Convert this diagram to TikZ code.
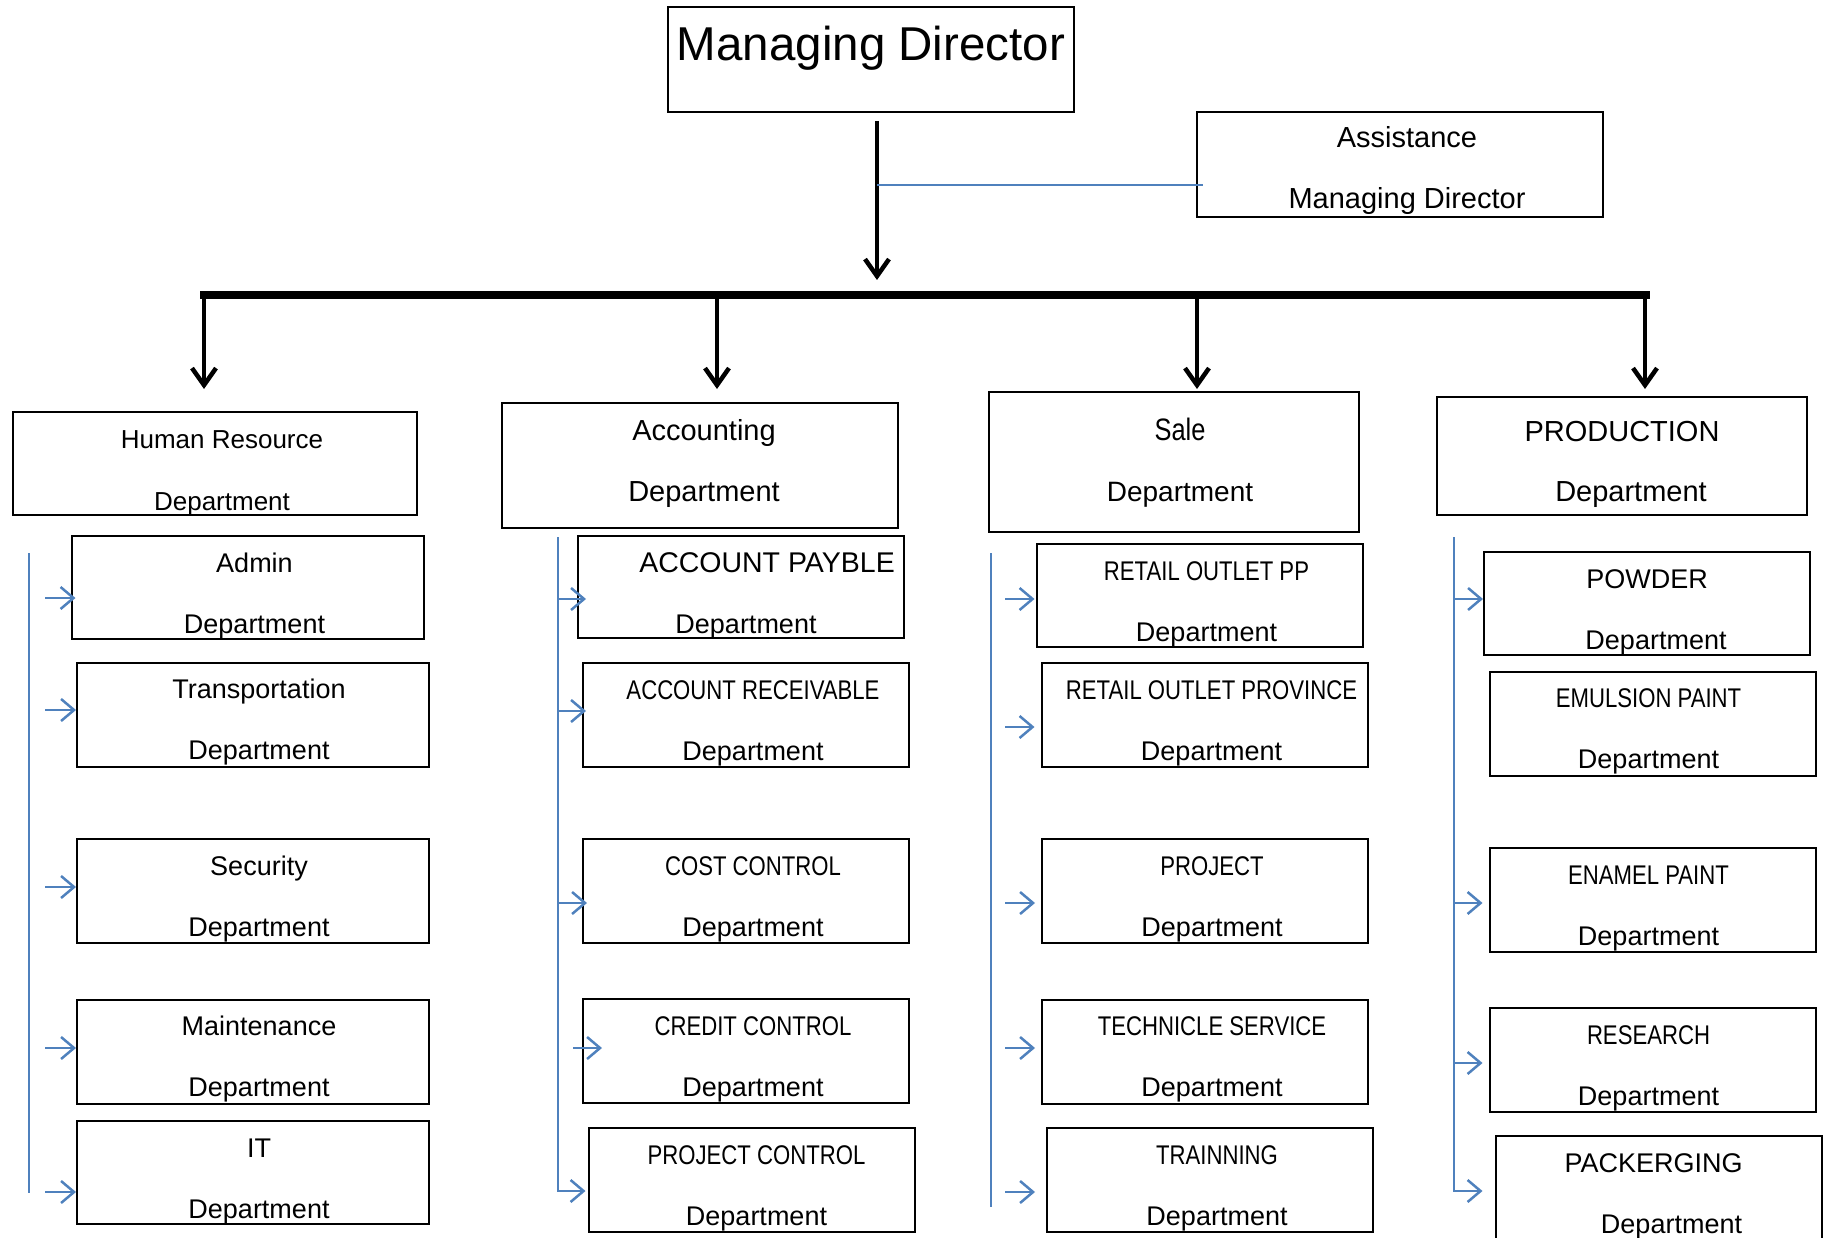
\documentclass[tikz,border=0pt]{standalone}
\usepackage{fontspec}
\setmainfont{Liberation Sans}
\newfontfamily\narrowsf[FakeStretch=0.82]{Liberation Sans}
\usepackage{xcolor}
\usepackage{tikz}
\usetikzlibrary{arrows.meta}
\definecolor{lineblue}{RGB}{79,129,189}

\begin{document}
\begin{tikzpicture}[x=1pt,y=-1pt,
    box/.style={draw,line width=2pt,inner sep=0pt,align=center},
    subbox/.style={box,minimum width=326pt,minimum height=104pt,text height=97pt,text depth=7pt,font=\fontsize{27pt}{61pt}\selectfont},
    hrbox/.style={subbox,minimum width=352pt},
    bigarrow/.style={line width=4.5pt,-{Straight Barb[length=17pt,width=24pt]}},
    blueline/.style={draw=lineblue,line width=2.5pt},
    bluearrow/.style={blueline,-{Straight Barb[length=13pt,width=22pt]}}]
    \useasboundingbox (0,0) rectangle (1828,1238);

    % top
    \node[box,minimum width=406pt,text height=54pt,text depth=51pt,font=\fontsize{47.5pt}{57pt}\selectfont] (md) at (871,59.5) {Managing Director};
    \node[box,line width=1.5pt,minimum width=406pt,text height=97pt,text depth=8pt,font=\fontsize{29pt}{61pt}\selectfont] (asst) at (1400,164.5) {\hspace*{14pt}Assistance\\\hspace*{14pt}Managing Director};

    % departments
    \node[box,minimum width=404pt,text height=98pt,text depth=5pt,font=\fontsize{26pt}{62pt}\selectfont] (hr) at (215,463.5) {\hspace*{14pt}Human Resource\\\hspace*{14pt}Department};
    \node[box,minimum width=396pt,text height=98pt,text depth=27pt,font=\fontsize{29pt}{61pt}\selectfont] (acc) at (700,465.5) {\hspace*{8pt}Accounting\\\hspace*{8pt}Department};
    \node[box,minimum width=370pt,text height=109pt,text depth=31pt,font=\fontsize{28pt}{61pt}\selectfont] (sale) at (1174,462) {\hspace*{12pt}{\narrowsf\fontsize{31pt}{61pt}\selectfont Sale}\\\hspace*{12pt}Department};
    \node[box,minimum width=370pt,text height=104pt,text depth=14pt,font=\fontsize{29pt}{60pt}\selectfont] (prod) at (1622,456) {PRODUCTION\\\hspace*{18pt}Department};

    % human resource
    \node[hrbox,minimum height=103pt,text depth=6pt] (admin) at (247.5,587.5) {\hspace*{14pt}Admin\\\hspace*{14pt}Department};
    \node[hrbox] (transport) at (253,714.5) {\hspace*{12pt}Transportation\\\hspace*{12pt}Department};
    \node[hrbox] (security) at (253,891) {\hspace*{12pt}Security\\\hspace*{12pt}Department};
    \node[hrbox] (maint) at (253,1051.5) {\hspace*{12pt}Maintenance\\\hspace*{12pt}Department};
    \node[hrbox,minimum height=103pt,text depth=6pt] (it) at (253,1172.5) {\hspace*{12pt}IT\\\hspace*{12pt}Department};

    % accounting
    \node[subbox,minimum height=102pt,text depth=5pt] (payble) at (741,587) {\hspace*{52pt}{\fontsize{28.5pt}{61pt}\selectfont ACCOUNT PAYBLE}\\\hspace*{10pt}Department};
    \node[subbox] (receive) at (746,715) {\hspace*{14pt}{\narrowsf ACCOUNT RECEIVABLE}\\\hspace*{14pt}Department};
    \node[subbox] (cost) at (746,891) {\hspace*{14pt}{\narrowsf COST CONTROL}\\\hspace*{14pt}Department};
    \node[subbox] (credit) at (746,1051) {\hspace*{14pt}{\narrowsf CREDIT CONTROL}\\\hspace*{14pt}Department};
    \node[subbox] (pcontrol) at (751.5,1180) {\hspace*{10pt}{\narrowsf PROJECT CONTROL}\\\hspace*{10pt}Department};

    % sale
    \node[subbox,minimum height=103pt,text depth=6pt] (outletpp) at (1199.5,595.5) {\hspace*{14pt}{\narrowsf RETAIL OUTLET PP}\\\hspace*{14pt}Department};
    \node[subbox] (outletprov) at (1204.5,715) {\hspace*{14pt}{\narrowsf RETAIL OUTLET PROVINCE}\\\hspace*{14pt}Department};
    \node[subbox] (project) at (1205,891) {\hspace*{14pt}{\narrowsf PROJECT}\\\hspace*{14pt}Department};
    \node[subbox] (service) at (1205,1051.5) {\hspace*{14pt}{\narrowsf TECHNICLE SERVICE}\\\hspace*{14pt}Department};
    \node[subbox] (training) at (1210,1180) {\hspace*{14pt}{\narrowsf TRAINNING}\\\hspace*{14pt}Department};

    % production
    \node[subbox,minimum height=103pt,text depth=6pt] (powder) at (1647,603.5) {POWDER\\\hspace*{18pt}Department};
    \node[subbox] (emulsion) at (1652.5,723.5) {\hspace*{-8pt}{\narrowsf EMULSION PAINT}\\\hspace*{-8pt}Department};
    \node[subbox] (enamel) at (1652.5,900) {\hspace*{-8pt}{\narrowsf ENAMEL PAINT}\\\hspace*{-8pt}Department};
    \node[subbox] (research) at (1652.5,1060) {\hspace*{-8pt}{\narrowsf RESEARCH}\\\hspace*{-8pt}Department};
    \node[subbox] (packing) at (1658.5,1188) {\hspace*{-10pt}PACKERGING\\\hspace*{26pt}Department};

    % black lines
    \coordinate (mdstem) at (877,121);
    \coordinate (junction) at (877,295);
    \coordinate (asstlink) at (877,185);
    \coordinate (barl) at (200,295);
    \coordinate (barr) at (1650,295);
    \coordinate (br1) at (204,295);
    \coordinate (br2) at (717,295);
    \coordinate (br3) at (1197,295);
    \coordinate (br4) at (1645,295);
    \draw[bigarrow,shorten >=15pt] (mdstem) -- (junction);
    \draw[blueline,shorten >=-7pt] (asstlink) -- (asstlink -| asst.west);
    \draw[line width=7.5pt] (barl) -- (barr);
    \draw[bigarrow,shorten >=22pt] (br1) -- (br1 |- hr.north);
    \draw[bigarrow,shorten >=13pt] (br2) -- (br2 |- acc.north);
    \draw[bigarrow,shorten >=2pt] (br3) -- (br3 |- sale.north);
    \draw[bigarrow,shorten >=7pt] (br4) -- (br4 |- prod.north);

    % human resource links
    \coordinate (hrtop) at (29,553);
    \coordinate (hrend) at (29,1193);
    \coordinate (hr1) at (45,598);
    \coordinate (hr2) at (45,710);
    \coordinate (hr3) at (45,887);
    \coordinate (hr4) at (45,1048);
    \coordinate (hr5) at (45,1192);
    \draw[blueline] (hrtop) -- (hrend);
    \draw[bluearrow,shorten >=-5pt] (hr1) -- (hr1 -| admin.west);
    \draw[bluearrow] (hr2) -- (hr2 -| transport.west);
    \draw[bluearrow] (hr3) -- (hr3 -| security.west);
    \draw[bluearrow] (hr4) -- (hr4 -| maint.west);
    \draw[bluearrow] (hr5) -- (hr5 -| it.west);

    % accounting links
    \coordinate (acctop) at (558,537);
    \coordinate (acc1) at (558,599);
    \coordinate (acc2) at (558,711);
    \coordinate (acc3) at (558,903);
    \coordinate (acc4) at (573,1048);
    \coordinate (acc5) at (558,1191);
    \draw[bluearrow,shorten >=2pt] (acctop) |- (acc5 -| pcontrol.west);
    \draw[bluearrow,shorten >=-9pt] (acc1) -- (acc1 -| payble.west);
    \draw[bluearrow,shorten >=-4pt] (acc2) -- (acc2 -| receive.west);
    \draw[bluearrow,shorten >=-5pt] (acc3) -- (acc3 -| cost.west);
    \draw[bluearrow,shorten >=-20pt] (acc4) -- (acc4 -| credit.west);

    % sale links
    \coordinate (saletop) at (991,553);
    \coordinate (saleend) at (991,1207);
    \coordinate (s1) at (1005,599);
    \coordinate (s2) at (1005,727);
    \coordinate (s3) at (1005,903);
    \coordinate (s4) at (1005,1048);
    \coordinate (s5) at (1005,1192);
    \draw[blueline] (saletop) -- (saleend);
    \draw[bluearrow,shorten >=1pt] (s1) -- (s1 -| outletpp.west);
    \draw[bluearrow,shorten >=6pt] (s2) -- (s2 -| outletprov.west);
    \draw[bluearrow,shorten >=6pt] (s3) -- (s3 -| project.west);
    \draw[bluearrow,shorten >=6pt] (s4) -- (s4 -| service.west);
    \draw[bluearrow,shorten >=11pt] (s5) -- (s5 -| training.west);

    % production links
    \coordinate (prodtop) at (1454,537);
    \coordinate (p1) at (1454,599);
    \coordinate (p3) at (1454,903);
    \coordinate (p4) at (1454,1063);
    \coordinate (p5) at (1454,1191);
    \draw[bluearrow,shorten >=12pt] (prodtop) |- (p5 -| packing.west);
    \draw[bluearrow] (p1) -- (p1 -| powder.west);
    \draw[bluearrow,shorten >=6pt] (p3) -- (p3 -| enamel.west);
    \draw[bluearrow,shorten >=6pt] (p4) -- (p4 -| research.west);
\end{tikzpicture}
\end{document}
